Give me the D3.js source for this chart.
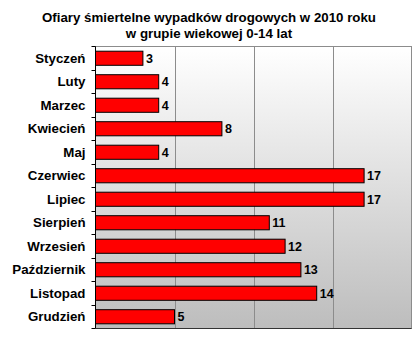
<!DOCTYPE html>
<html>
<head>
<meta charset="utf-8">
<script src="https://cdn.jsdelivr.net/npm/d3@7"></script>
<style>
  html, body { margin: 0; padding: 0; background: #fff; }
  svg { display: block; }
  text { font-family: "Liberation Sans", Arial, sans-serif; }
</style>
</head>
<body>
<svg id="chart" width="419" height="339"></svg>
<script>
const titleLines = ["Ofiary śmiertelne wypadków drogowych w 2010 roku", "w grupie wiekowej 0-14 lat"];
const months = ["Styczeń", "Luty", "Marzec", "Kwiecień", "Maj", "Czerwiec", "Lipiec", "Sierpień", "Wrzesień", "Październik", "Listopad", "Grudzień"];
const deaths = [3, 4, 4, 8, 4, 17, 17, 11, 12, 13, 14, 5];
const xTicks = [0, 5, 10, 15, 20];

const svg = d3.select("#chart");
const m = { left: 95.5, right: 411.5, top: 46.5, bottom: 328.5 };

const x = d3.scaleLinear().domain([0, 20]).range([m.left, m.right]);
const y = d3.scaleBand().domain(months).range([m.top, m.bottom]).paddingInner(0.4).paddingOuter(0.2);
const yBand = d3.scaleBand().domain(months).range([m.top, m.bottom]);

// plot background: white fading to grey
const defs = svg.append("defs");
const grad = defs.append("linearGradient").attr("id", "bg").attr("x1", 0).attr("y1", 0).attr("x2", 0).attr("y2", 1);
grad.append("stop").attr("offset", "0%").attr("stop-color", "#ffffff");
grad.append("stop").attr("offset", "100%").attr("stop-color", "#bdbdbd");

svg.append("rect")
  .attr("x", m.left).attr("y", m.top)
  .attr("width", m.right - m.left).attr("height", m.bottom - m.top)
  .attr("fill", "url(#bg)").attr("stroke", "#8c8c8c").attr("stroke-width", 1);

// vertical gridlines
svg.append("g").selectAll("line").data(xTicks.slice(1, -1)).join("line")
  .attr("x1", d => Math.round(x(d)) + 0.5).attr("x2", d => Math.round(x(d)) + 0.5)
  .attr("y1", m.top).attr("y2", m.bottom)
  .attr("stroke", "#8c8c8c").attr("stroke-width", 1);

// category axis
const yAxis = d3.axisLeft(yBand).tickSize(0).tickPadding(10).tickFormat(d => d);
const ga = svg.append("g").attr("transform", `translate(${m.left},0)`).call(yAxis);
ga.select(".domain").remove();
ga.selectAll("text").attr("font-size", 13.3).attr("font-weight", "bold").attr("fill", "#000");

// axis line with tick marks between categories
svg.append("line").attr("x1", m.left).attr("x2", m.left).attr("y1", m.top).attr("y2", m.bottom)
  .attr("stroke", "#000").attr("stroke-width", 1);
const bounds = months.map(d => yBand(d)).concat([m.bottom]);
svg.append("g").selectAll("line").data(bounds).join("line")
  .attr("x1", m.left - 4).attr("x2", m.left)
  .attr("y1", d => Math.round(d - 0.5) + 0.5).attr("y2", d => Math.round(d - 0.5) + 0.5)
  .attr("stroke", "#000");
svg.append("line").attr("x1", m.left).attr("x2", m.right).attr("y1", m.bottom).attr("y2", m.bottom)
  .attr("stroke", "#333");

// bars
svg.append("g").selectAll("rect").data(months).join("rect")
  .attr("x", m.left)
  .attr("y", (d) => y(d))
  .attr("width", (d, i) => x(deaths[i]) - m.left)
  .attr("height", y.bandwidth())
  .attr("fill", "#ff0000").attr("stroke", "#000").attr("stroke-width", 1);

// value labels
svg.append("g").selectAll("text").data(months).join("text")
  .attr("x", (d, i) => x(deaths[i]) + 3)
  .attr("y", d => y(d) + y.bandwidth() / 2)
  .attr("dy", "0.36em")
  .attr("font-size", 12.5).attr("font-weight", "bold").attr("fill", "#000")
  .text((d, i) => deaths[i]);

// title
svg.append("g").selectAll("text").data(titleLines).join("text")
  .attr("x", 209).attr("y", (d, i) => 21.5 + i * 16)
  .attr("text-anchor", "middle")
  .attr("font-size", 13.3).attr("font-weight", "bold").attr("fill", "#000")
  .text(d => d);
</script>
</body>
</html>
